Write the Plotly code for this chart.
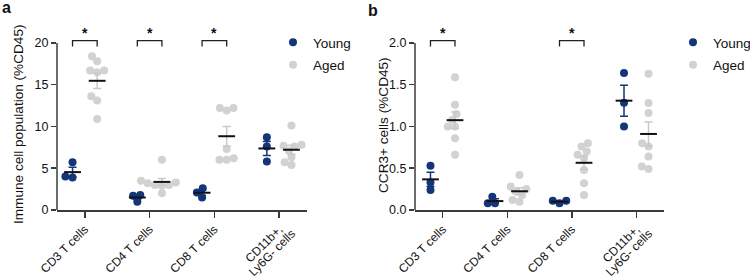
import math
import plotly.graph_objects as go

categories = ["CD3 T cells", "CD4 T cells", "CD8 T cells", "CD11b+,"]
cat4_line2 = "Ly6G- cells"

# Panel a: Immune cell population (%CD45)
a_young = [
    [5.7, 3.9, 4.0],
    [1.0, 1.8, 1.7],
    [2.6, 2.1, 1.5],
    [8.7, 7.6, 5.8],
]
a_aged = [
    [18.4, 17.8, 16.7, 16.7, 16.5, 13.6, 13.1, 10.9],
    [6.0, 3.5, 3.3, 3.2, 3.0, 2.9, 3.0, 2.0],
    [12.2, 12.2, 11.9, 7.3, 6.2, 6.0, 6.0],
    [10.1, 7.8, 7.7, 7.6, 7.1, 6.3, 5.7, 5.4],
]
a_sig = [True, True, True, False]

# Panel b: CCR3+ cells (%CD45)
b_young = [
    [0.53, 0.33, 0.24],
    [0.16, 0.08, 0.08],
    [0.08, 0.11, 0.11],
    [1.64, 1.285, 1.0],
]
b_aged = [
    [1.59, 1.26, 1.15, 1.08, 1.0, 1.0, 0.86, 0.66],
    [0.42, 0.28, 0.25, 0.22, 0.18, 0.12, 0.10],
    [0.80, 0.76, 0.70, 0.66, 0.62, 0.48, 0.32, 0.18],
    [1.63, 1.28, 1.16, 0.80, 0.76, 0.64, 0.52, 0.49],
]
b_sig = [True, False, True, False]

NAVY = "#14357a"
GRAY = "#d2d2d2"
GRAY_ERR = "#c9c9c9"
AXIS = "#3a3a3a"
FONT = "Liberation Sans, Arial, sans-serif"
TICKFONT = 12

W, H = 750, 276
MT, MB = 22, 66
PLOT_H = H - MT - MB
X_PX = 64.7  # px per category unit
GROUP_OFF = 0.19
MEAN_HALF = 0.13


def swarm(vals, ypx, d=7.2):
    """Simple beeswarm: return x offsets in px."""
    order = sorted(range(len(vals)), key=lambda i: vals[i])
    placed = []
    xs = [0.0] * len(vals)
    for i in order:
        y = vals[i] * ypx
        cands = [0.0]
        for (px, py) in placed:
            dy = abs(py - y)
            if dy < d:
                dx = math.sqrt(d * d - dy * dy)
                cands += [px + dx, px - dx]
        cands.sort(key=lambda c: (abs(c), c))
        for c in cands:
            ok = all((c - px) ** 2 + (y - py) ** 2 >= d * d - 1e-6 for (px, py) in placed)
            if ok:
                xs[i] = c
                placed.append((c, y))
                break
    return xs


def stats(v):
    n = len(v)
    m = sum(v) / n
    sd = math.sqrt(sum((x - m) ** 2 for x in v) / (n - 1))
    return m, sd / math.sqrt(n)


fig = go.Figure()


def add_panel(young, aged, sig, xa, ya, ymax, legend_name, ypx):
    for gi, (data, color, off, name) in enumerate([
        (young, NAVY, -GROUP_OFF, "Young"),
        (aged, GRAY, GROUP_OFF, "Aged"),
    ]):
        xs_all, ys_all = [], []
        for ci, vals in enumerate(data):
            offs = swarm(vals, ypx)
            for v, o in zip(vals, offs):
                xs_all.append(ci + off + o / X_PX)
                ys_all.append(v)
        fig.add_trace(go.Scatter(
            x=xs_all, y=ys_all, mode="markers", xaxis=xa, yaxis=ya,
            marker=dict(color=color, size=8, line=dict(width=0)),
            name=name, legend=legend_name, legendgroup=legend_name + name,
            showlegend=True, cliponaxis=False,
        ))
    for gi, (data, ecolor, off) in enumerate([
        (young, NAVY, -GROUP_OFF),
        (aged, GRAY_ERR, GROUP_OFF),
    ]):
        mx, my, me = [], [], []
        lx, ly = [], []
        for ci, vals in enumerate(data):
            m, se = stats(vals)
            mx.append(ci + off)
            my.append(m)
            me.append(se)
            lx += [ci + off - MEAN_HALF, ci + off + MEAN_HALF, None]
            ly += [m, m, None]
        fig.add_trace(go.Scatter(
            x=mx, y=my, mode="markers", xaxis=xa, yaxis=ya,
            marker=dict(size=1, opacity=0),
            error_y=dict(type="data", array=me, visible=True, color=ecolor,
                         thickness=1.5, width=4),
            showlegend=False, hoverinfo="skip",
        ))
        fig.add_trace(go.Scatter(
            x=lx, y=ly, mode="lines", xaxis=xa, yaxis=ya,
            line=dict(color="#111111", width=2),
            showlegend=False, hoverinfo="skip",
        ))
    for ci, s in enumerate(sig):
        if not s:
            continue
        x0 = ci - GROUP_OFF
        x1 = ci + GROUP_OFF
        ytop = ymax * 1.013
        ybot = ymax * 0.978
        fig.add_shape(type="path",
                      path=f"M {x0} {ybot} L {x0} {ytop} L {x1} {ytop} L {x1} {ybot}",
                      xref=xa, yref=ya, line=dict(color="#222222", width=1.3))
        fig.add_annotation(x=ci, y=ymax * 1.062, xref=xa, yref=ya, text="<b>*</b>",
                           showarrow=False, font=dict(size=14, color="#111111", family=FONT))
    fig.add_shape(type="line", xref=f"{xa} domain", yref=ya, x0=0, x1=0, y0=0, y1=ymax,
                  line=dict(color=AXIS, width=1.5))
    # second line of the last category label (right-aligned under the first line)
    fig.add_annotation(x=3 + 20 / X_PX, y=-(225 - 210) / PLOT_H, xref=xa, yref="paper",
                       text=cat4_line2, textangle=-45, showarrow=False,
                       xanchor="right", yanchor="top", borderpad=0,
                       font=dict(size=TICKFONT, color="#111111", family=FONT))


add_panel(a_young, a_aged, a_sig, "x", "y", 20, "legend", 8.35)
add_panel(b_young, b_aged, b_sig, "x2", "y2", 2.0, "legend2", 83.5)

xcommon = dict(
    tickmode="array", tickvals=[0, 1, 2, 3], ticktext=categories, range=[-0.43, 3.43],
    showline=True, linecolor=AXIS, linewidth=1.5, ticks="outside", ticklen=6,
    tickwidth=1.5, tickcolor=AXIS, tickangle=-45, showgrid=False, zeroline=False,
    tickfont=dict(size=TICKFONT, color="#111111", family=FONT), fixedrange=True,
    automargin=False,
)
ycommon = dict(
    showline=False, ticks="outside", ticklen=5, tickwidth=1.5, tickcolor=AXIS,
    showgrid=False, zeroline=False, tickfont=dict(size=12.5, color="#111111", family=FONT),
    domain=[0, 1], automargin=False, fixedrange=True,
)

legfont = dict(size=13.5, color="#111111", family=FONT)
fig.update_layout(
    width=W, height=H,
    margin=dict(l=0, r=0, t=MT, b=MB, autoexpand=False),
    paper_bgcolor="white", plot_bgcolor="white",
    font=dict(family=FONT, color="#111111"),
    xaxis=dict(domain=[57 / W, 307 / W], anchor="y", **xcommon),
    xaxis2=dict(domain=[415 / W, 664 / W], anchor="y2", **xcommon),
    yaxis=dict(anchor="x", range=[0, 22.5], tickvals=[0, 5, 10, 15, 20], **ycommon),
    yaxis2=dict(anchor="x2", range=[0, 2.25], tickvals=[0, 0.5, 1.0, 1.5, 2.0],
                tickformat=".1f", **ycommon),
    legend=dict(xref="container", yref="container", x=273 / W, y=1 - 27 / H,
                xanchor="left", yanchor="top", bgcolor="rgba(0,0,0,0)",
                font=legfont, itemclick=False, tracegroupgap=2),
    legend2=dict(xref="container", yref="container", x=673 / W, y=1 - 27 / H,
                 xanchor="left", yanchor="top", bgcolor="rgba(0,0,0,0)",
                 font=legfont, itemclick=False, tracegroupgap=2),
    showlegend=True,
)

fig.add_annotation(xref="paper", yref="paper", x=0 / W, y=1 + (MT - 8) / PLOT_H,
                   text="<b>a</b>", showarrow=False, xanchor="left", yanchor="middle",
                   font=dict(size=16, family=FONT, color="#111111"))
fig.add_annotation(xref="paper", yref="paper", x=366 / W, y=1 + (MT - 10) / PLOT_H,
                   text="<b>b</b>", showarrow=False, xanchor="left", yanchor="middle",
                   font=dict(size=16, family=FONT, color="#111111"))
fig.add_annotation(xref="paper", yref="paper", x=18 / W, y=(210 - 125) / PLOT_H,
                   text="Immune cell population (%CD45)", textangle=-90, showarrow=False,
                   xanchor="center", yanchor="middle",
                   font=dict(size=13.6, family=FONT, color="#111111"))
fig.add_annotation(xref="paper", yref="paper", x=383 / W, y=(210 - 125) / PLOT_H,
                   text="CCR3+ cells (%CD45)", textangle=-90, showarrow=False,
                   xanchor="center", yanchor="middle",
                   font=dict(size=13.6, family=FONT, color="#111111"))

fig.write_html("out.html", config={"displayModeBar": False, "staticPlot": True},
               post_script="document.body.style.margin='0';")
